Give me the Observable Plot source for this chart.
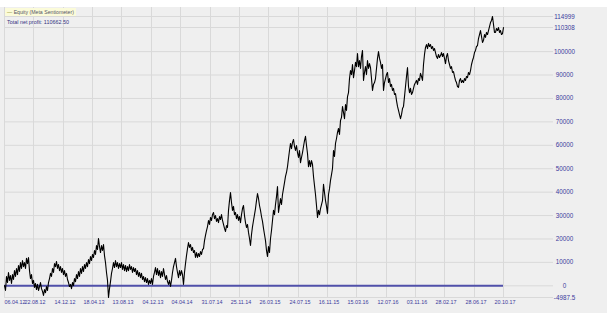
<!DOCTYPE html>
<html>
<head>
<meta charset="utf-8">
<script src="https://cdn.jsdelivr.net/npm/d3@7"></script>
<script src="https://cdn.jsdelivr.net/npm/@observablehq/plot@0.6"></script>
<style>
  html, body { margin: 0; padding: 0; background: #ffffff; }
  #wrap { position: relative; width: 607px; height: 313px; overflow: hidden;
          background: linear-gradient(#ffffff 0 7px, #efefef 7px); font-family: "Liberation Sans", Arial, sans-serif; }
  #chart { position: absolute; left: 0; top: 0; }
  #legend { position: absolute; left: 5px; top: 8px; height: 8px; padding: 0 2px; background: #fbfbd9;
            font-size: 5.2px; line-height: 8px; color: #555566; white-space: nowrap; }
  #legend .dash { color: #8c8c1e; }
  #profit { position: absolute; left: 7px; top: 19px; font-size: 5.4px; color: #33337f; white-space: nowrap; }
</style>
</head>
<body>
<div id="wrap">
  <div id="chart"></div>
  <div id="legend"><span class="dash">—</span> Equity (Meta Sentiometer)</div>
  <div id="profit">Total net profit: 110662.50</div>
</div>
<script>
// Equity curve in thousands, one sample per step
const equity = [
  0.1, -2.0, 4.0, 1.4, 5.7, 2.3, 4.4, 1.0, 4.8, 2.7,
  6.5, 4.0, 7.4, 4.8, 8.7, 6.1, 9.9, 7.4, 10.8, 8.2,
  9.9, 7.4, 11.7, 9.5, 12.1, 6.5, 3.1, 4.8, 1.0, 2.3,
  -0.7, 1.0, -1.6, 0.6, -2.0, -0.3, 1.4, -1.2, -2.4, -4.1,
  -1.6, -2.9, -0.3, -2.0, 1.4, 3.1, 5.3, 4.0, 7.4, 5.7,
  9.5, 8.2, 10.4, 7.4, 9.1, 6.5, 8.2, 5.7, 7.4, 4.8,
  6.5, 4.0, 5.3, 2.7, 1.4, -0.3, 0.6, -1.2, 1.4, 0.1,
  3.1, 1.8, 4.8, 3.1, 6.1, 4.0, 7.4, 5.3, 8.2, 6.1,
  9.1, 7.4, 9.9, 8.2, 11.2, 9.5, 12.5, 10.8, 13.4, 12.1,
  15.1, 13.4, 17.2, 15.5, 20.2, 16.8, 14.2, 17.2, 15.1, 17.6,
  12.9, 9.9, 5.7, 2.3, -4.9875, -1.2, 1.8, 5.3, 7.4, 9.9,
  7.8, 10.8, 8.2, 9.9, 7.4, 9.5, 7.8, 9.9, 7.0, 9.1,
  6.5, 8.7, 6.1, 8.2, 6.5, 9.1, 7.0, 8.2, 5.7, 7.8,
  6.1, 7.4, 4.8, 6.5, 4.0, 5.7, 3.5, 5.3, 2.7, 4.0,
  1.8, 3.5, 1.4, 3.1, 0.6, 2.3, 1.0, 3.1, 0.6, 4.0,
  5.7, 7.8, 4.8, 7.4, 4.4, 6.5, 3.5, 6.1, 4.0, 7.4,
  4.8, 2.7, 4.4, 1.8, 0.6, 2.3, -0.3, 2.3, 5.7, 8.2,
  9.9, 11.7, 8.2, 5.7, 3.5, 6.5, 4.4, 6.5, 4.8, 0.6,
  5.7, 9.5, 12.9, 15.9, 18.5, 16.4, 17.6, 15.1, 16.4, 14.2,
  15.1, 12.1, 14.2, 12.1, 13.8, 12.5, 14.6, 13.4, 15.5, 15.9,
  19.3, 21.5, 23.6, 25.3, 27.9, 26.2, 29.2, 27.9, 30.4, 31.3,
  28.7, 30.0, 27.5, 28.7, 27.0, 29.6, 28.3, 30.4, 27.9, 26.2,
  24.5, 23.2, 25.7, 24.9, 32.2, 36.4, 39.8, 35.6, 32.2, 33.9,
  30.4, 31.3, 28.7, 30.4, 27.9, 29.6, 27.0, 30.4, 33.0, 34.3,
  30.0, 27.0, 24.9, 26.2, 22.8, 20.2, 17.2, 21.9, 25.3, 27.9,
  30.4, 33.0, 36.4, 39.4, 37.3, 34.3, 32.2, 29.6, 27.5, 24.5,
  21.9, 19.3, 15.1, 12.5, 16.8, 14.2, 20.2, 23.6, 27.9, 32.2,
  30.4, 34.7, 38.1, 42.4, 31.3, 34.3, 37.3, 34.7, 39.0, 41.5,
  44.1, 46.7, 48.4, 50.9, 54.4, 57.8, 60.8, 58.6, 61.2, 62.5,
  59.5, 57.8, 59.9, 56.9, 54.8, 57.8, 52.6, 54.8, 56.9, 59.5,
  62.0, 63.8, 59.9, 56.5, 50.9, 53.5, 50.9, 53.5, 51.8, 46.7,
  42.8, 39.0, 34.3, 29.2, 32.2, 30.4, 33.0, 34.7, 36.4, 43.3,
  39.8, 36.4, 33.9, 30.9, 39.0, 41.5, 45.0, 47.5, 50.1, 57.8,
  55.2, 60.8, 62.9, 65.5, 67.2, 64.6, 70.6, 71.9, 76.6, 74.0,
  71.4, 77.4, 74.9, 80.8, 82.5, 88.5, 91.9, 90.2, 94.5, 88.9,
  91.9, 95.4, 93.6, 99.2, 93.6, 96.2, 92.8, 97.9, 100.5, 87.7,
  91.1, 93.6, 90.2, 96.2, 92.8, 94.9, 93.2, 88.5, 83.4, 86.0,
  86.8, 88.5, 92.8, 97.1, 100.0, 97.1, 95.4, 92.8, 94.5, 83.4,
  86.8, 88.5, 90.2, 91.1, 86.8, 88.5, 85.1, 86.0, 83.4, 84.3,
  81.7, 82.1, 79.1, 76.6, 74.9, 73.1, 71.4, 73.1, 75.7, 76.6,
  80.8, 85.1, 89.4, 93.2, 85.1, 82.5, 84.3, 81.7, 82.5, 84.3,
  86.0, 86.8, 87.7, 86.0, 88.5, 87.7, 90.7, 89.4, 87.7, 94.5,
  98.8, 101.8, 103.0, 101.3, 103.5, 102.2, 103.0, 101.3, 102.2, 100.5,
  101.3, 99.6, 97.9, 97.1, 98.8, 97.5, 98.3, 99.6, 97.9, 99.2,
  97.1, 94.9, 97.9, 99.2, 96.2, 94.5, 92.8, 93.6, 91.1, 91.5,
  89.4, 87.7, 86.8, 85.1, 84.7, 87.7, 88.5, 86.8, 87.7, 86.8,
  88.5, 87.7, 89.4, 88.9, 91.1, 90.2, 91.9, 94.5, 96.2, 97.5,
  99.6, 100.5, 102.2, 102.6, 105.6, 107.3, 109.0, 106.5, 103.9, 104.8,
  107.3, 106.1, 108.2, 107.3, 109.0, 110.7, 112.4, 113.3, 114.999, 111.6,
  108.2, 108.2, 109.9, 109.0, 110.3, 108.2, 109.0, 107.3, 107.7, 110.308
];

// Date labels and the sample index each falls on
const tickDates = ["06.04.12","22.08.12","14.12.12","18.04.13","13.08.13","04.12.13","04.04.14","31.07.14","25.11.14",
                   "26.03.15","24.07.15","16.11.15","15.03.16","12.07.16","03.11.16","28.02.17","28.06.17","20.10.17"];
const tickAt = [0, 29, 59, 88, 117, 147, 176, 206, 235, 264, 294, 323, 352, 382, 411, 440, 470, 499];

// Y axis values (thousands) and their labels
const yTicks = [-4.9875, 0, 10, 20, 30, 40, 50, 60, 70, 80, 90, 100, 110.308, 114.999];
const yTickLabels = ["-4987.5","0","10000","20000","30000","40000","50000","60000","70000","80000","90000","100000","110308","114999"];

const pts = equity.map((v, i) => ({i, v}));
const xTicks = tickAt.map((t, k) => ({t, label: tickDates[k]}));
const yT = yTicks.map((v, k) => ({v, label: yTickLabels[k]}));

const labelBlue = "#3b3b9c";
const grid = "#d9d9d9";

const chart = Plot.plot({
  width: 607,
  height: 313,
  marginLeft: 4,
  marginRight: 104,
  marginTop: 16,
  marginBottom: 16,
  style: {background: "transparent", fontFamily: "Liberation Sans, Arial, sans-serif", overflow: "visible"},
  x: {domain: [0, equity.length - 1], axis: null},
  y: {domain: [-4.9875, 114.999], axis: null},
  marks: [
    Plot.ruleY(yT, {y: "v", stroke: grid, strokeWidth: 1, insetRight: -50}),
    Plot.ruleX(xTicks, {x: "t", stroke: grid, strokeWidth: 1, insetTop: -9}),
    Plot.ruleY([0], {stroke: "#5050aa", strokeWidth: 2}),
    Plot.line(pts, {x: "i", y: "v", stroke: "#000", strokeWidth: 1.1, curve: "linear"}),
    Plot.text(yT, {y: "v", text: "label", frameAnchor: "right", dx: 61, textAnchor: "middle",
                   fill: labelBlue, fontSize: 6.3}),
    Plot.text(xTicks.slice(0, 1), {x: "t", text: "label", frameAnchor: "bottom", dy: 6, dx: 0, textAnchor: "start",
                   fill: labelBlue, fontSize: 5.4, letterSpacing: -0.4}),
    Plot.text(xTicks.slice(1), {x: "t", text: "label", frameAnchor: "bottom", dy: 6, dx: 1.5, textAnchor: "middle",
                   fill: labelBlue, fontSize: 5.4, letterSpacing: -0.4})
  ]
});
document.getElementById("chart").appendChild(chart);
</script>
</body>
</html>
